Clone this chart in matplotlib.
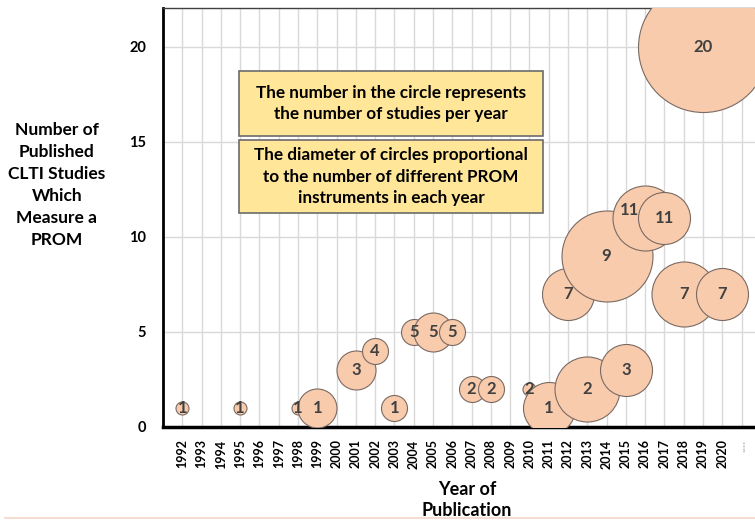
import numpy as np
import matplotlib.pyplot as plt
from matplotlib.patches import Rectangle
from matplotlib.lines import Line2D

plt.rcParams['font.family'] = ['Lato', 'DejaVu Sans']

# dane: rok, liczba badań (pozycja y i etykieta), liczba różnych narzędzi PROM (średnica)
lata = [1992, 1995, 1998, 1999, 2001, 2002, 2003, 2004, 2005, 2006, 2007, 2008,
        2010, 2011, 2012, 2013, 2014, 2015, 2016, 2017, 2018, 2019, 2020]
badania = [1, 1, 1, 1, 3, 4, 1, 5, 5, 5, 2, 2,
           2, 1, 7, 2, 9, 3, 11, 11, 7, 20, 7]
narzedzia = [1, 1, 1, 3, 3, 2, 2, 2, 3, 2, 2, 2,
             1, 4, 4, 5, 7, 4, 5, 4, 5, 10, 4]
etykiety_x = [str(r) for r in range(1992, 2021)] + ['....']
y_ticks = [0, 5, 10, 15, 20]

W, H, DPI = 755, 523, 100
fig = plt.figure(figsize=(W / DPI, H / DPI), dpi=DPI)
ax = fig.add_axes([163 / W, 96 / H, 1 - 163 / W, 419 / H])

# średnica w pikselach: 13 px na jedno narzędzie -> rozmiar w pt^2
px_na_narzedzie = 13
s = [(n * px_na_narzedzie * 72 / DPI) ** 2 for n in narzedzia]

for x, y, si in zip(lata, badania, s):
    ax.scatter([x], [y], s=si, facecolor='#F8CBAD', edgecolor='#7a6a62',
               linewidth=0.8, zorder=3)

# etykiety w kółkach (2016 przesunięte jak w oryginale)
przesuniecia = {2016: (-11, 6)}
for x, y in zip(lata, badania):
    dx, dy = przesuniecia.get(x, (0, 0))
    ax.annotate(str(y), (x, y), xytext=(dx, dy), textcoords='offset points',
                ha='center', va='center', fontsize=12, fontweight='bold',
                color='#404040', zorder=5)

ax.set_xlim(1991, 2021.7)
ax.set_ylim(0, 22.05)
ax.set_xticks(range(1992, 2022))
ax.set_xticklabels(etykiety_x, rotation=90, fontsize=9, fontweight='bold')
ax.get_xticklabels()[-1].set_color('#bfbfbf')
ax.set_yticks(y_ticks)
ax.set_yticklabels([str(v) for v in y_ticks], fontsize=10.5, fontweight='bold')
ax.tick_params(axis='both', length=0)
ax.tick_params(axis='x', pad=9)
ax.tick_params(axis='y', pad=12)

ax.grid(True, color='#d9d9d9', linewidth=1)
ax.set_axisbelow(True)
ax.spines['right'].set_visible(False)
ax.spines['top'].set_linewidth(1)
ax.spines['top'].set_color('#404040')
ax.spines['left'].set_linewidth(2)
ax.spines['bottom'].set_linewidth(2.5)

# opisy osi
fig.text(57 / W, 1 - 185 / H,
         'Number of\nPublished\nCLTI Studies\nWhich\nMeasure a\nPROM',
         ha='center', va='center', fontsize=12.5, fontweight='bold',
         linespacing=1.46)
fig.text(467 / W, 1 - 500 / H, 'Year of\nPublication', ha='center',
         va='center', fontsize=13, fontweight='bold', linespacing=1.35)

# ramki z objaśnieniami
ramki = [
    (239, 71, 543, 136, 'The number in the circle represents\nthe number of studies per year'),
    (239, 140, 543, 213, 'The diameter of circles proportional\nto the number of different PROM\ninstruments in each year'),
]
for x0, y0, x1, y1, tekst in ramki:
    fig.patches.append(Rectangle((x0 / W, 1 - y1 / H), (x1 - x0) / W, (y1 - y0) / H,
                                 transform=fig.transFigure, facecolor='#FFE699',
                                 edgecolor='#6b6b6b', linewidth=1.2, zorder=10))
    fig.text((x0 + x1) / 2 / W, 1 - (y0 + y1) / 2 / H, tekst, ha='center',
             va='center', fontsize=12.3, fontweight='bold', linespacing=1.42,
             zorder=11)

# jasna linia na dole obrazka
fig.add_artist(Line2D([5 / W, 1], [1 - 518 / H, 1 - 518 / H], transform=fig.transFigure,
                      color='#f6ddd2', linewidth=1.5))

fig.savefig('out.png', dpi=DPI)
